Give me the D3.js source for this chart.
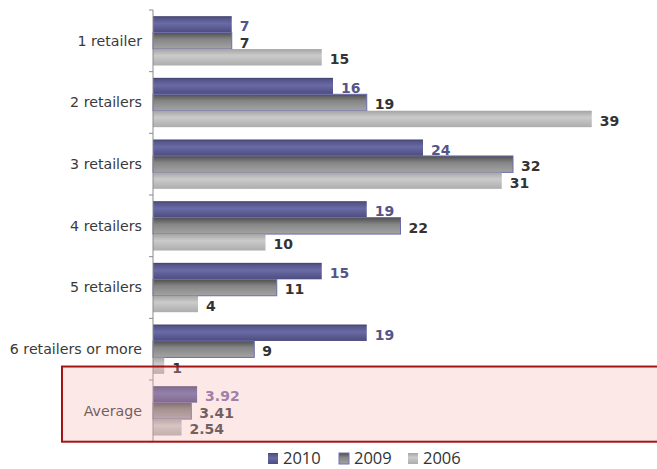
<!DOCTYPE html>
<html lang="en">
<head>
  <meta charset="UTF-8">
  <title>Retailers</title>
  <style>
    html, body { margin: 0; width: 100%; height: 100%; overflow: hidden; background: #fff; }
    svg { display: block; }
  </style>
</head>
<body>
  <div id="chart"></div>
  <script src="https://cdn.jsdelivr.net/npm/d3@7"></script>
  <script>
    const categories = ['1 retailer', '2 retailers', '3 retailers', '4 retailers', '5 retailers', '6 retailers or more', 'Average']
    const seriesNames = ['2010', '2009', '2006']
    const values2010 = [7, 16, 24, 19, 15, 19, 3.92]
    const values2009 = [7, 19, 32, 22, 11, 9, 3.41]
    const values2006 = [15, 39, 31, 10, 4, 1, 2.54]
    const labels2010 = ['7', '16', '24', '19', '15', '19', '3.92']
    const labels2009 = ['7', '19', '32', '22', '11', '9', '3.41']
    const labels2006 = ['15', '39', '31', '10', '4', '1', '2.54']

    const width = 657
    const height = 469
    const axisX = 153
    const plotTop = 10
    const plotBottom = 441.7

    const series = [
      { name: seriesNames[0], values: values2010, labels: labels2010, grad: 'g2010', label: '#55558a', avgLabel: '#7a6aa0', stroke: 'none' },
      { name: seriesNames[1], values: values2009, labels: labels2009, grad: 'g2009', label: '#333', avgLabel: '#3c3c3c', stroke: '#6c6cac' },
      { name: seriesNames[2], values: values2006, labels: labels2006, grad: 'g2006', label: '#333', avgLabel: '#3c3c3c', stroke: 'none' }
    ]

    const svg = d3.select('#chart').append('svg')
      .attr('width', width)
      .attr('height', height)

    // gradients for the bars
    const defs = svg.append('defs')
    const grads = {
      g2010: [['0%', '#40406a'], ['12%', '#55558a'], ['45%', '#6a6aa6'], ['100%', '#4c4c7e']],
      g2009: [['0%', '#4e4e4e'], ['40%', '#858585'], ['100%', '#a4a4a4']],
      g2006: [['0%', '#a4a4a4'], ['40%', '#cbcbcb'], ['100%', '#adadad']]
    }
    Object.entries(grads).forEach(([id, stops]) => {
      const lg = defs.append('linearGradient').attr('id', id)
        .attr('x1', 0).attr('y1', 0).attr('x2', 0).attr('y2', 1)
      stops.forEach(([o, c]) => lg.append('stop').attr('offset', o).attr('stop-color', c))
    })

    const x = d3.scaleLinear().domain([0, 40]).range([axisX, axisX + 450])
    const y0 = d3.scaleBand().domain(categories).range([plotTop, plotBottom]).paddingInner(0.2).paddingOuter(0.1)
    const y1 = d3.scaleBand().domain(seriesNames).range([0, y0.bandwidth()])

    // bars
    const groups = svg.append('g').selectAll('g')
      .data(categories)
      .join('g')
      .attr('transform', d => `translate(0,${y0(d)})`)

    groups.each(function (cat, i) {
      const g = d3.select(this)
      series.forEach(s => {
        g.append('rect')
          .attr('x', x(0))
          .attr('y', y1(s.name))
          .attr('width', x(s.values[i]) - x(0))
          .attr('height', y1.bandwidth())
          .attr('fill', `url(#${s.grad})`)
          .attr('stroke', s.stroke)
          .attr('stroke-width', 1)
        g.append('text')
          .attr('x', x(s.values[i]) + 8)
          .attr('y', y1(s.name) + y1.bandwidth() / 2 + 2)
          .attr('dy', '0.35em')
          .attr('font-family', 'DejaVu Sans, Verdana, sans-serif')
          .attr('font-weight', 'bold')
          .attr('font-size', 14)
          .attr('fill', cat === 'Average' ? s.avgLabel : s.label)
          .text(s.labels[i])
      })
    })

    // axis
    const axis = svg.append('g')
    axis.append('line')
      .attr('x1', axisX).attr('x2', axisX)
      .attr('y1', plotTop).attr('y2', plotBottom)
      .attr('stroke', '#8a8a8a')
    const bounds = categories.map(c => y0(c) - y0.step() * 0.1).concat([plotBottom])
    axis.selectAll('.tick')
      .data(bounds)
      .join('line')
      .attr('class', 'tick')
      .attr('x1', axisX - 4).attr('x2', axisX)
      .attr('y1', d => d).attr('y2', d => d)
      .attr('stroke', '#8a8a8a')

    svg.append('g').selectAll('text')
      .data(categories)
      .join('text')
      .attr('x', axisX - 11)
      .attr('y', d => y0(d) + y0.bandwidth() / 2)
      .attr('dy', '0.35em')
      .attr('text-anchor', 'end')
      .attr('font-family', 'DejaVu Sans, Verdana, sans-serif')
      .attr('font-size', 14.2)
      .attr('fill', '#3a3a3a')
      .text(d => d)

    // highlight box around Average
    const avgTop = y0('Average') - y0.step() * 0.1 - 13.5
    svg.append('rect')
      .attr('x', 62)
      .attr('y', avgTop)
      .attr('width', 600)
      .attr('height', plotBottom - avgTop)
      .attr('fill', 'rgb(248,178,178)')
      .attr('fill-opacity', 0.3)
      .attr('stroke', '#a31515')
      .attr('stroke-width', 2)

    // legend
    const legend = svg.append('g').attr('transform', 'translate(268,453)')
    const legendX = [0, 71, 140]
    series.forEach((s, i) => {
      legend.append('rect')
        .attr('x', legendX[i]).attr('y', 0)
        .attr('width', 10).attr('height', 11)
        .attr('fill', `url(#${s.grad})`)
        .attr('stroke', i === 1 ? '#7070b0' : 'none')
      legend.append('text')
        .attr('x', legendX[i] + 15)
        .attr('y', 5.5)
        .attr('dy', '0.36em')
        .attr('font-family', 'Open Sans, sans-serif')
        .attr('font-size', 16.5)
        .attr('fill', '#333')
        .text(s.name)
    })
  </script>
</body>
</html>
